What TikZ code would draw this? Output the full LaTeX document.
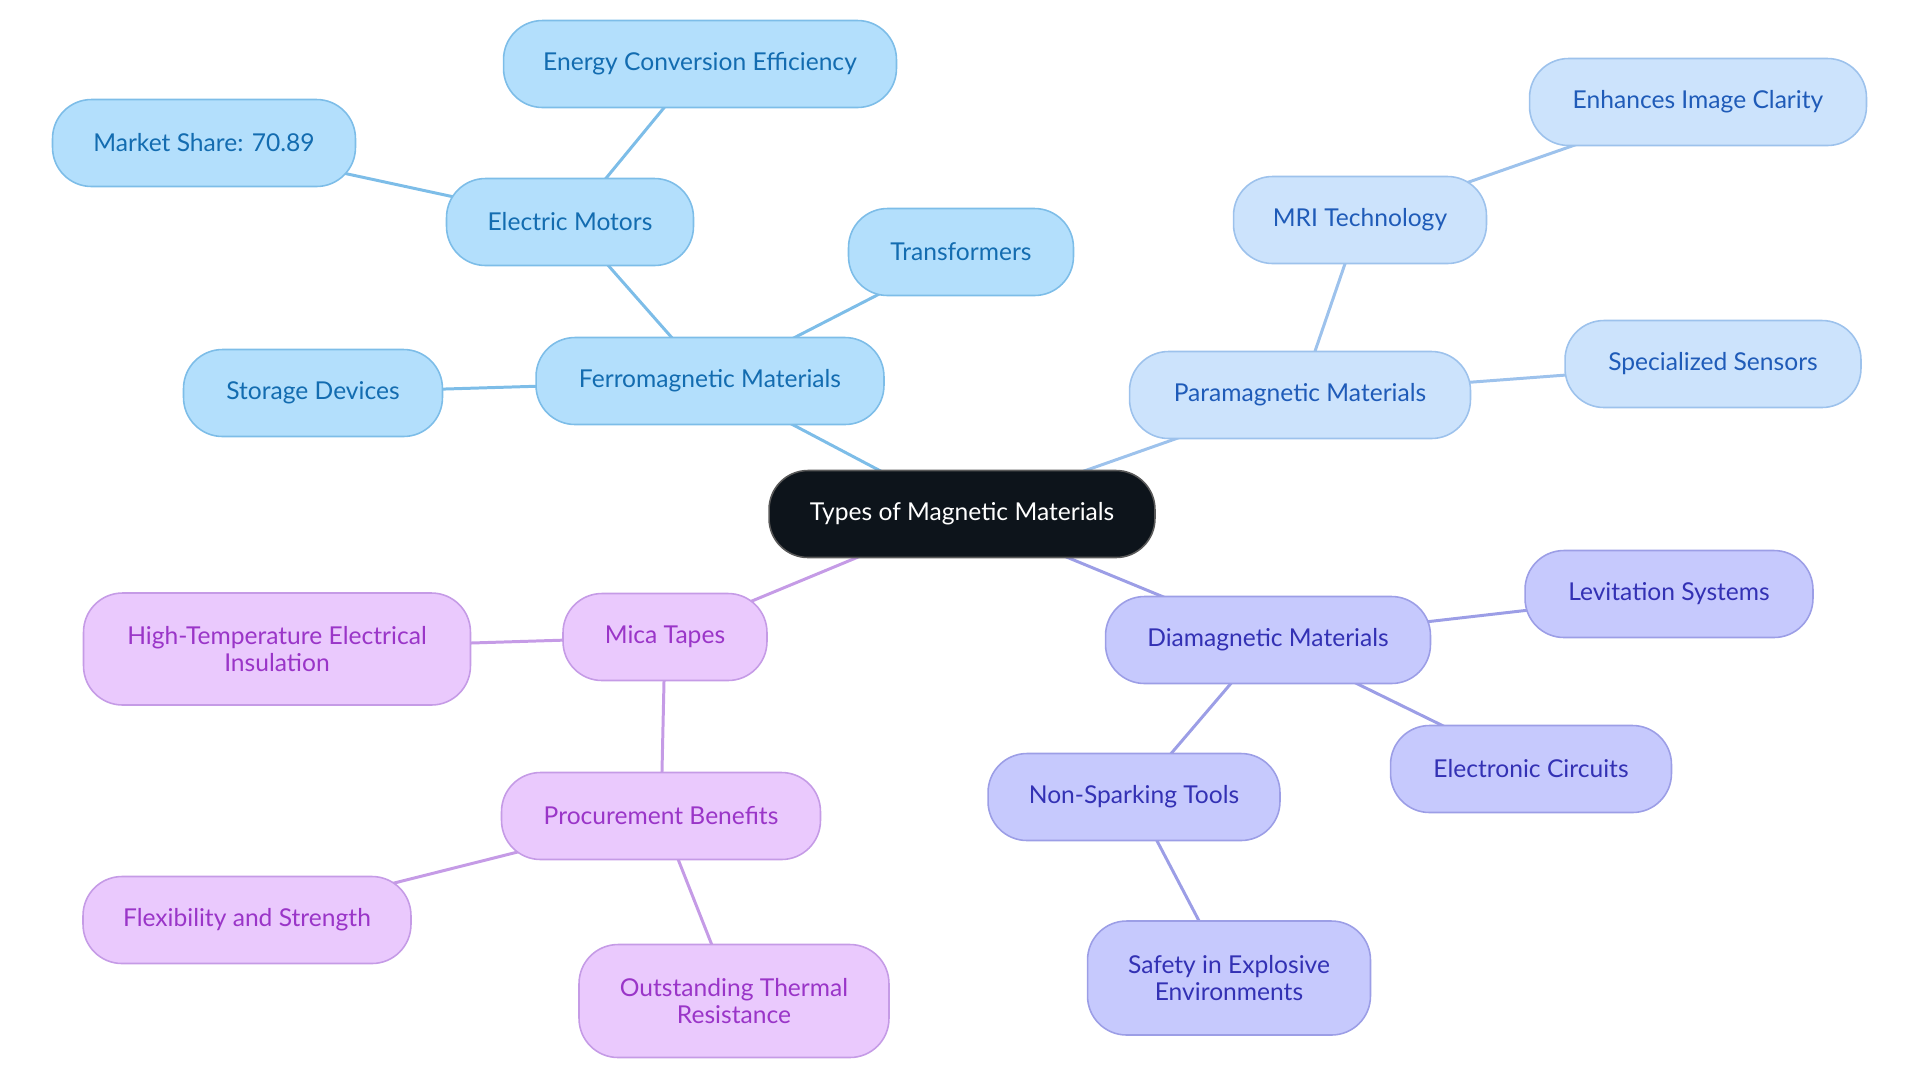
\documentclass[tikz,border=0pt]{standalone}
\usepackage{fontspec}
\setmainfont{Lato}
\usetikzlibrary{backgrounds}

\definecolor{ferroFill}{HTML}{B3DFFC}
\definecolor{ferroEdge}{HTML}{7DBDE8}
\definecolor{ferroText}{HTML}{136CB0}
\definecolor{paraFill}{HTML}{CCE3FC}
\definecolor{paraEdge}{HTML}{9DC2EC}
\definecolor{paraText}{HTML}{1F5BB8}
\definecolor{diaFill}{HTML}{C6C9FD}
\definecolor{diaEdge}{HTML}{9C9EE6}
\definecolor{diaText}{HTML}{3331B4}
\definecolor{micaFill}{HTML}{EAC9FD}
\definecolor{micaEdge}{HTML}{C59BE6}
\definecolor{micaText}{HTML}{9A35C8}
\definecolor{rootFill}{HTML}{0D141B}

\tikzset{
  topic/.style={rounded corners=0.78cm, minimum height=1.74cm, line width=0.9pt,
                align=center, font=\fontsize{14}{15}\selectfont},
  root/.style={topic, fill=rootFill, draw=gray!70!black, text=white},
  ferro/.style={topic, fill=ferroFill, draw=ferroEdge, text=ferroText},
  para/.style={topic, fill=paraFill, draw=paraEdge, text=paraText},
  dia/.style={topic, fill=diaFill, draw=diaEdge, text=diaText},
  mica/.style={topic, fill=micaFill, draw=micaEdge, text=micaText},
  link/.style={line width=1.7pt},
}

\begin{document}
\begin{tikzpicture}[x=0.02cm, y=-0.02cm]
	\useasboundingbox (0,0) rectangle (1920,1083);
	\node[root, minimum width=7.72cm] (root) at (962,514) {Types of Magnetic Materials};
	% ferromagnetic branch
	\node[ferro, minimum width=6.96cm] (ferro) at (710,381) {Ferromagnetic Materials};
	\node[ferro, minimum width=4.94cm] (motors) at (570,222) {Electric Motors};
	\node[ferro, minimum width=7.86cm] (energy) at (700,64) {Energy Conversion Efficiency};
	\node[ferro, minimum width=6.06cm] (market) at (204,143) {Market Share: 70.89};
	\node[ferro, minimum width=4.5cm] (transf) at (961,252) {Transformers};
	\node[ferro, minimum width=5.18cm] (storage) at (313,393) {Storage Devices};
	% paramagnetic branch
	\node[para, minimum width=6.82cm] (para) at (1300,395) {Paramagnetic Materials};
	\node[para, minimum width=5.06cm] (mri) at (1360,220) {MRI Technology};
	\node[para, minimum width=6.74cm] (clarity) at (1698,102) {Enhances Image Clarity};
	\node[para, minimum width=5.92cm] (sensors) at (1713,364) {Specialized Sensors};
	% diamagnetic branch
	\node[dia, minimum width=6.5cm] (dia) at (1268,640) {Diamagnetic Materials};
	\node[dia, minimum width=5.76cm] (levit) at (1669,594) {Levitation Systems};
	\node[dia, minimum width=5.62cm] (circuits) at (1531,769) {Electronic Circuits};
	\node[dia, minimum width=5.84cm] (nonspark) at (1134,797) {Non-Sparking Tools};
	\node[dia, minimum width=5.66cm, minimum height=2.28cm] (safety) at (1229,978) {Safety in Explosive\\Environments};
	% mica tapes
	\node[mica, minimum width=4.08cm] (mica) at (665,637) {Mica Tapes};
	\node[mica, minimum width=7.74cm, minimum height=2.24cm] (insul) at (277,649) {High-Temperature Electrical\\Insulation};
	\node[mica, minimum width=6.38cm] (procure) at (661,816) {Procurement Benefits};
	\node[mica, minimum width=6.56cm] (flex) at (247,920) {Flexibility and Strength};
	\node[mica, minimum width=6.2cm, minimum height=2.26cm] (thermal) at (734,1001) {Outstanding Thermal\\Resistance};
	% connectors
	\begin{scope}[on background layer]
		\draw[link, ferroEdge] (root.center) -- (ferro.center);
		\draw[link, ferroEdge] (ferro.center) -- (motors.center);
		\draw[link, ferroEdge] (motors.center) -- (energy.center);
		\draw[link, ferroEdge] (motors.center) -- (market.center);
		\draw[link, ferroEdge] (ferro.center) -- (transf.center);
		\draw[link, ferroEdge] (ferro.center) -- (storage.center);
		\draw[link, paraEdge] (root.center) -- (para.center);
		\draw[link, paraEdge] (para.center) -- (mri.center);
		\draw[link, paraEdge] (mri.center) -- (clarity.center);
		\draw[link, paraEdge] (para.center) -- (sensors.center);
		\draw[link, diaEdge] (root.center) -- (dia.center);
		\draw[link, diaEdge] (dia.center) -- (levit.center);
		\draw[link, diaEdge] (dia.center) -- (circuits.center);
		\draw[link, diaEdge] (dia.center) -- (nonspark.center);
		\draw[link, diaEdge] (nonspark.center) -- (safety.center);
		\draw[link, micaEdge] (root.center) -- (mica.center);
		\draw[link, micaEdge] (mica.center) -- (insul.center);
		\draw[link, micaEdge] (mica.center) -- (procure.center);
		\draw[link, micaEdge] (procure.center) -- (flex.center);
		\draw[link, micaEdge] (procure.center) -- (thermal.center);
	\end{scope}
\end{tikzpicture}
\end{document}
